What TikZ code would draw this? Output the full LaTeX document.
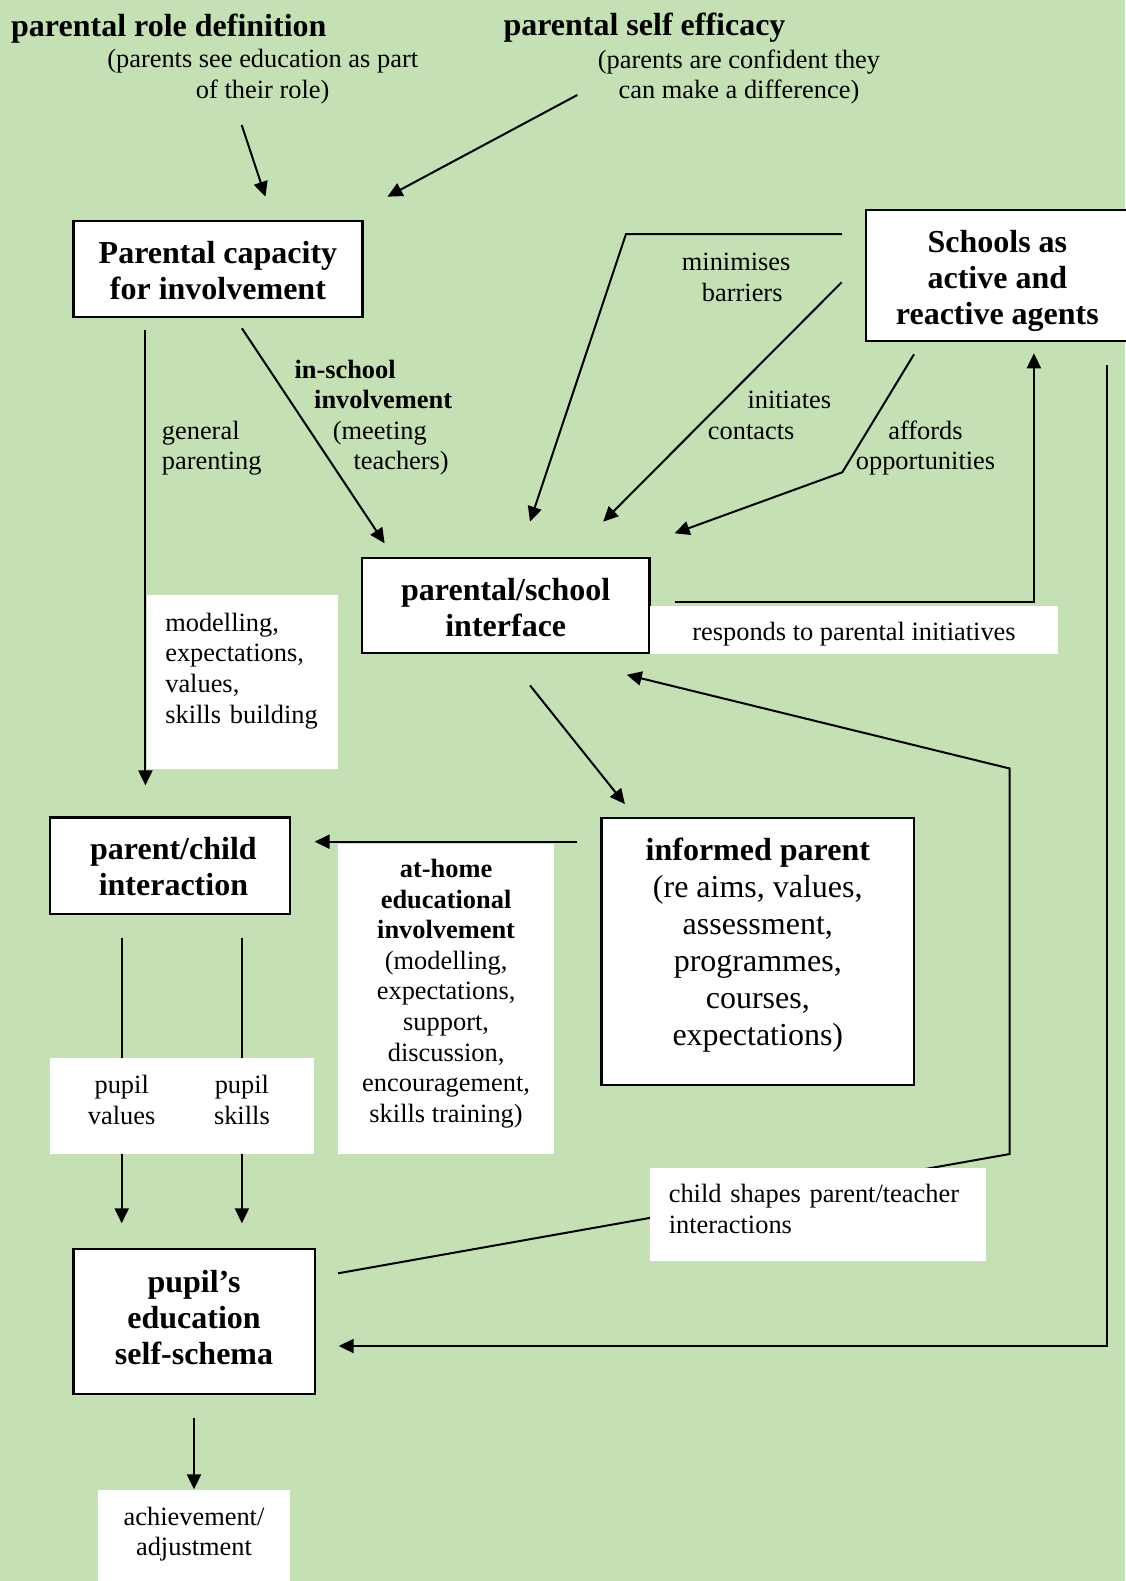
\documentclass[tikz,border=0pt]{standalone}
\usepackage{fontspec}
\setmainfont{Liberation Serif}
\usetikzlibrary{arrows.meta}
\definecolor{bgc}{RGB}{197,224,180}
% type sizes: bold headings, body text, large box text
\newcommand\fbold{\fontsize{32}{36}\selectfont\bfseries}
\newcommand\freg{\fontsize{26.4}{30.6}\selectfont}
\newcommand\fbig{\fontsize{32}{37}\selectfont}
% invisible struts fixing the height of a first line / depth of a last line
\newcommand\tst[1]{\rule{0pt}{#1pt}}
\newcommand\bst[1]{\rule[-#1pt]{0pt}{#1pt}}
\pgfdeclarelayer{back}
\pgfdeclarelayer{lines}
\pgfsetlayers{back,lines,main}
\begin{document}
\begin{tikzpicture}[x=1pt,y=-1pt,
  bx/.style={draw, line width=2.2pt, fill=white, inner sep=0pt, align=center, font=\fbold},
  wbox/.style={fill=white, inner sep=0pt, font=\freg},
  lbl/.style={inner sep=0pt, font=\freg},
  conn/.style={line width=2pt},
  arr/.style={conn, -{Triangle[length=15pt,width=14pt]}}]

\useasboundingbox (0,0) rectangle (1125,1581);
\begin{pgfonlayer}{back}
  \fill[bgc] (0,0) rectangle (1125,1581);
\end{pgfonlayer}

% ---- headings at the top
\node[lbl, font=\fbold, anchor=base west] (rolehead) at (11,36.5) {parental role definition};
\node[lbl, align=center] (roletext) at (262.7,76.5)
  {\tst{21}(parents see education as part\\of their role)\bst{8}};
\node[lbl, font=\fbold, anchor=base west] (effhead) at (503.3,36) {parental self efficacy};
\node[lbl, align=center] (efftext) at (739,77)
  {\tst{21}(parents are confident they\\can make a difference)\bst{8}};

% ---- framed boxes
\node[bx, minimum width=288.9pt, minimum height=96.6pt] (cap) at (217.95,269)
  {\tst{30}Parental capacity\\for involvement\bst{6}};
\node[bx, minimum width=263.3pt, minimum height=130.7pt] (schools) at (997.35,275.35)
  {\tst{37}Schools as\\active and\\reactive agents\bst{10.3}};
\node[bx, minimum width=287.5pt, minimum height=95.3pt] (iface) at (505.75,605.65)
  {\tst{26}parental/school\\interface\bst{1.3}};
\node[bx, minimum width=240.2pt, minimum height=96.5pt] (pc) at (169.9,865.75)
  {\tst{30}\hspace*{7pt}parent/child\\\hspace*{7pt}interaction\bst{5.7}};
\node[bx, minimum width=312.8pt, minimum height=266.9pt, font=\fbig] (inf) at (757.8,951.35)
  {\tst{29}{\bfseries informed parent}\\(re aims, values,\\assessment,\\programmes,\\courses,\\expectations)\bst{26.4}};
\node[bx, minimum width=241.1pt, minimum height=145pt] (ps) at (194.05,1321.8)
  {\tst{29}pupil’s\\education\\self-schema\bst{16.2}};

% ---- white label panels
\node[wbox, text width=154.7pt, inner xsep=18pt, align=left, minimum height=174.3pt] (mbox) at (242.65,682.15)
  {\tst{27}modelling,\\expectations,\\values,\\skills building\bst{37.1}};
\node[wbox, align=center, minimum width=216.2pt, minimum height=309.7pt] (hbox) at (446.1,999.15)
  {\tst{23}{\bfseries at-home}\\{\bfseries educational}\\{\bfseries involvement}\\(modelling,\\expectations,\\support,\\discussion,\\encouragement,\\skills training)\bst{21.7}};
\node[wbox, minimum width=264pt, minimum height=96.1pt] (pupbox) at (181.8,1105.95) {};
\node[lbl, align=center] (pval) at (121.7,1102.3) {\tst{21}pupil\\values\bst{8}};
\node[lbl, align=center] (pskl) at (241.9,1102.3) {\tst{21}pupil\\skills\bst{8}};
\node[wbox, align=center, minimum width=408pt, minimum height=47.8pt] (rbox) at (854,629.9)
  {\tst{30}responds to parental initiatives\bst{9.8}};
\node[wbox, text width=298.4pt, inner xsep=18.8pt, align=left, minimum height=93.1pt] (cbox) at (818,1214.45)
  {\tst{23}child shapes parent/teacher\\interactions\bst{16.3}};
\node[wbox, align=center, minimum width=192pt, minimum height=91pt] (abox) at (194,1535.5)
  {\tst{25}achievement/\\adjustment\bst{14.8}};

% ---- connector labels on the background
\node[lbl, align=left, anchor=west] (general) at (161.7,448.1) {\tst{21}general\\parenting\bst{8}};
\node[lbl, align=left, anchor=west] (inschool) at (294.3,417.4)
  {\tst{21}\textbf{in-school}\\\hspace*{19.7pt}\textbf{involvement}\\\hspace*{38.4pt}(meeting\\\hspace*{59pt}teachers)\bst{8}};
\node[lbl, align=left, anchor=west] (minim) at (681.7,279.6) {\tst{21}minimises\\\hspace*{20pt}barriers\bst{8}};
\node[lbl, align=left, anchor=west] (initi) at (707.7,417.5) {\tst{21}\hspace*{39.6pt}initiates\\contacts\bst{8}};
\node[lbl, align=center] (afford) at (925.5,448.1) {\tst{21}affords\\opportunities\bst{8}};

% ---- connector end points
\coordinate (roleS) at (241.7,125);   \coordinate (roleE) at (265.4,196.7);
\coordinate (effS) at (577.3,95);     \coordinate (effE) at (387.4,196.7);
\coordinate (genS) at (145.4,330);    \coordinate (genE) at (145.4,785.4);
\coordinate (insS) at (241.9,328.3);  \coordinate (insE) at (384.6,543.3);
\coordinate (minS) at (841.8,234);    \coordinate (minB) at (626,234);   \coordinate (minE) at (530,521.7);
\coordinate (iniS) at (841.7,282.3);  \coordinate (iniE) at (603.2,521.7);
\coordinate (affS) at (914,354.3);    \coordinate (affB) at (842.3,472.3); \coordinate (affE) at (674.6,533.3);
\coordinate (resS) at (674.6,601.7);  \coordinate (resB) at (1033.9,601.7); \coordinate (resE) at (1033.9,353.3);
\coordinate (infS) at (530,685.4);    \coordinate (infE) at (624.9,804.1);
\coordinate (homS) at (577.3,841.7);  \coordinate (homE) at (314.6,841.7);
\coordinate (pvS) at (121.7,937.9);   \coordinate (pvE) at (121.7,1057.9);
\coordinate (psS) at (241.9,937.9);   \coordinate (psE) at (241.9,1057.9);
\coordinate (pvS2) at (121.7,1154);   \coordinate (pvE2) at (121.7,1223.3);
\coordinate (psS2) at (241.9,1154);   \coordinate (psE2) at (241.9,1223.3);
\coordinate (chS) at (338,1273.3);    \coordinate (chB) at (1009.7,1154); \coordinate (chC) at (1009.7,768.5); \coordinate (chE) at (626.7,674.8);
\coordinate (rtS) at (1107,365);      \coordinate (rtB) at (1107,1346);   \coordinate (rtE) at (338.7,1346);
\coordinate (achS) at (194,1418.3);   \coordinate (achE) at (194,1489.3);

% ---- connectors, drawn beneath the boxes
\begin{pgfonlayer}{lines}
  \draw[arr] (roleS) -- (roleE);
  \draw[arr] (effS) -- (effE);
  \draw[arr] (genS) -- (genE);
  \draw[arr] (insS) -- (insE);
  \draw[arr] (minS) -- (minB) -- (minE);
  \draw[arr] (iniS) -- (iniE);
  \draw[arr] (affS) -- (affB) -- (affE);
  \draw[arr] (resS) -- (resB) -- (resE);
  \draw[arr] (infS) -- (infE);
  \draw[arr] (homS) -- (homE);
  \draw[conn] (pvS) -- (pvE);
  \draw[conn] (psS) -- (psE);
  \draw[arr] (pvS2) -- (pvE2);
  \draw[arr] (psS2) -- (psE2);
  \draw[arr] (chS) -- (chB) -- (chC) -- (chE);
  \draw[arr] (rtS) -- (rtB) -- (rtE);
  \draw[arr] (achS) -- (achE);
\end{pgfonlayer}
\end{tikzpicture}
\end{document}
